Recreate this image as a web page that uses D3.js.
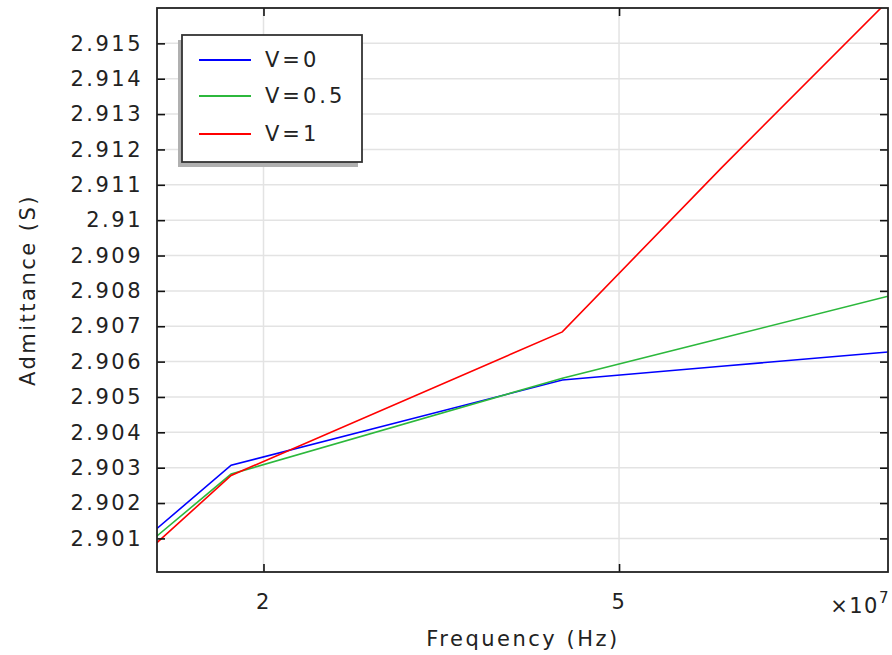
<!DOCTYPE html>
<html>
<head>
<meta charset="utf-8">
<script src="https://cdn.jsdelivr.net/npm/d3@7"></script>
<style>
  body { margin: 0; background: #fff; }
  svg text { font-family: "DejaVu Sans", sans-serif; fill: #222; }
</style>
</head>
<body>
<svg id="chart" width="892" height="655"></svg>
<script>
// frequencies (Hz) where the sweep has its points
var freq = [1.52e7, 1.84e7, 4.32e7, 6.51e7, 1e8];
// admittance (S) per bias voltage
var v0 = [2.90128, 2.90307, 2.90548, 2.90587, 2.90627];
var v05 = [2.90107, 2.90282, 2.90553, 2.90666, 2.90785];
var v1 = [2.90088, 2.90278, 2.90684, 2.91148, 2.91620];

var seriesNames = ["V=0", "V=0.5", "V=1"];
var seriesColors = ["#0000ff", "#2cb83c", "#ff0000"];
var series = [v0, v05, v1];

var xTicks = [2e7, 5e7];
var xTickLabels = ["2", "5"];
var yTicks = [2.901, 2.902, 2.903, 2.904, 2.905, 2.906, 2.907, 2.908,
              2.909, 2.91, 2.911, 2.912, 2.913, 2.914, 2.915];

var svg = d3.select("#chart");
var pL = 157, pR = 888, pT = 8, pB = 572;
var fs = "21px";

var x = d3.scaleLog().domain([1.52e7, 1e8]).range([pL, pR]);
var y = d3.scaleLinear().domain([2.90005, 2.916]).range([pB, pT]);

svg.append("clipPath").attr("id", "clip")
  .append("rect").attr("x", pL).attr("y", pT)
  .attr("width", pR - pL).attr("height", pB - pT);

// grid
var grid = svg.append("g").attr("stroke", "#e3e3e3").attr("stroke-width", 1.5);
grid.selectAll(".gx").data(xTicks).enter().append("line")
  .attr("x1", d => x(d)).attr("x2", d => x(d)).attr("y1", pT).attr("y2", pB);
grid.selectAll(".gy").data(yTicks).enter().append("line")
  .attr("x1", pL).attr("x2", pR).attr("y1", d => y(d)).attr("y2", d => y(d));

// lines
var line = d3.line().x((d, i) => x(freq[i])).y(d => y(d));
svg.append("g").attr("clip-path", "url(#clip)")
  .selectAll("path").data(series).enter().append("path")
  .attr("d", d => line(d))
  .attr("fill", "none")
  .attr("stroke", (d, i) => seriesColors[i])
  .attr("stroke-width", 1.6);

// axes with inward ticks
var tickLen = 8;
var axB = d3.axisBottom(x).tickValues(xTicks).tickSize(-tickLen).tickPadding(22)
  .tickFormat((d, i) => xTickLabels[i]);
var axT = d3.axisTop(x).tickValues(xTicks).tickSize(-tickLen).tickFormat("");
var axL = d3.axisLeft(y).tickValues(yTicks).tickSize(-tickLen).tickPadding(14)
  .tickFormat(d => String(+d.toFixed(3)));
var axR = d3.axisRight(y).tickValues(yTicks).tickSize(-tickLen).tickFormat("");

function style(g) {
  g.select(".domain").remove();
  g.selectAll(".tick line").attr("stroke", "#111").attr("stroke-width", 1.6);
  g.selectAll("text").attr("fill", "#222").style("font-size", fs)
    .style("letter-spacing", "2.5px");
}
svg.append("g").attr("transform", "translate(0," + pB + ")").call(axB).call(style);
svg.append("g").attr("transform", "translate(0," + pT + ")").call(axT).call(style);
svg.append("g").attr("transform", "translate(" + pL + ",0)").call(axL).call(style);
svg.append("g").attr("transform", "translate(" + pR + ",0)").call(axR).call(style);

// frame
svg.append("rect").attr("x", pL).attr("y", pT)
  .attr("width", pR - pL).attr("height", pB - pT)
  .attr("fill", "none").attr("stroke", "#222").attr("stroke-width", 1.8);

// multiplier
var mult = svg.append("text").attr("x", pR + 2).attr("y", 613)
  .attr("text-anchor", "end").style("font-size", fs).style("letter-spacing", "1.5px");
mult.append("tspan").text("×10");
mult.append("tspan").attr("dy", -10).style("font-size", "15px").text("7");

// axis titles
svg.append("text").attr("x", 523).attr("y", 646)
  .attr("text-anchor", "middle").style("font-size", fs).style("letter-spacing", "2.5px")
  .text("Frequency (Hz)");
svg.append("text").attr("transform", "translate(35,290) rotate(-90)")
  .attr("text-anchor", "middle").style("font-size", fs).style("letter-spacing", "2.5px")
  .text("Admittance (S)");

// legend
var lg = svg.append("g");
lg.append("rect").attr("x", 178).attr("y", 40).attr("width", 180).attr("height", 127)
  .attr("fill", "#b0b0b0");
lg.append("rect").attr("x", 182).attr("y", 35).attr("width", 180).attr("height", 127)
  .attr("fill", "#fff").attr("stroke", "#333").attr("stroke-width", 1.8);
var items = lg.selectAll(".item").data(seriesNames).enter().append("g")
  .attr("transform", (d, i) => "translate(0," + [60, 96, 134][i] + ")");
items.append("line").attr("x1", 199).attr("x2", 251)
  .attr("stroke", (d, i) => seriesColors[i]).attr("stroke-width", 1.8);
items.append("text").attr("x", 265).attr("dy", "0.35em")
  .style("font-size", fs).style("letter-spacing", "3px").text(d => d);
</script>
</body>
</html>
